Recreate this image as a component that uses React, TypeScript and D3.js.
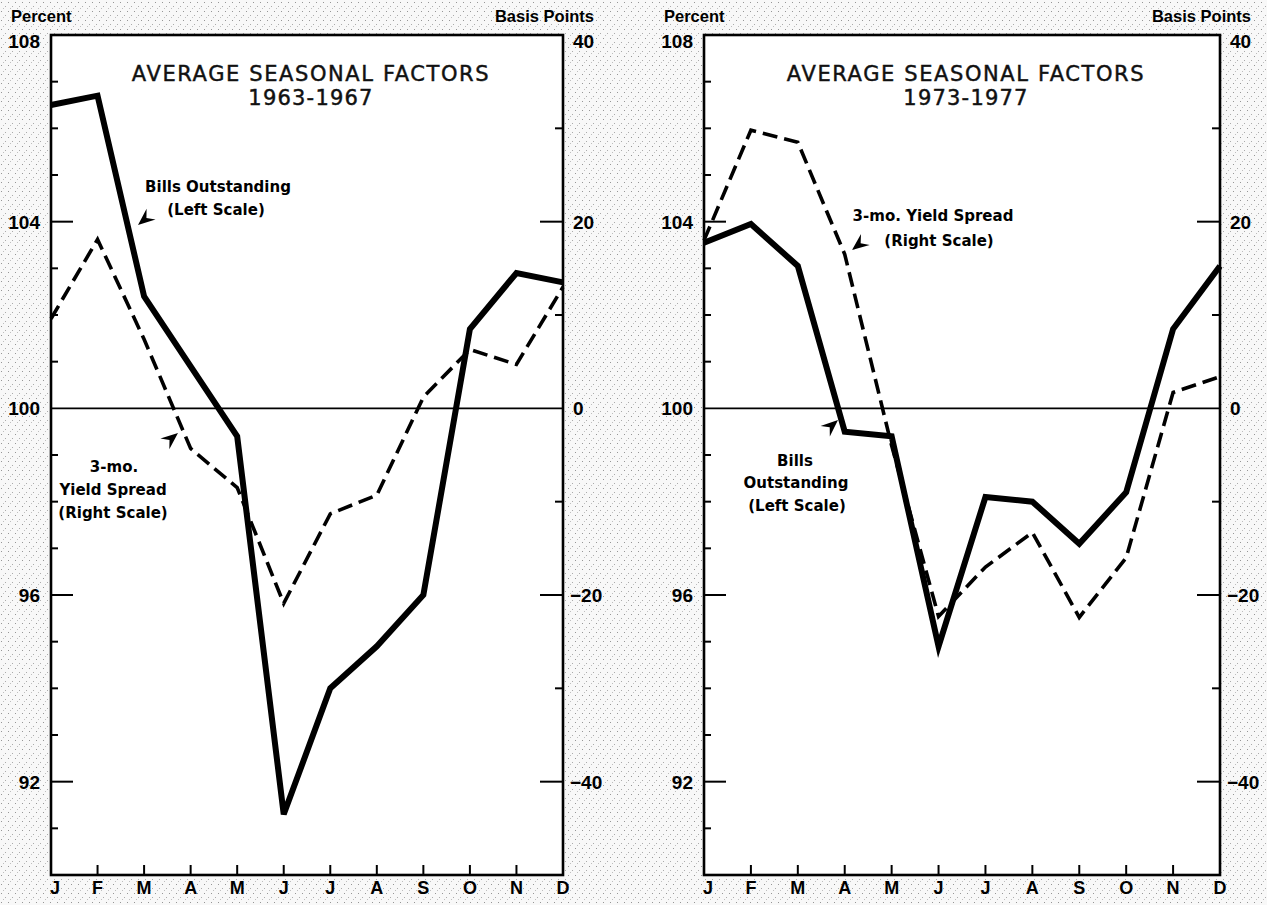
import React from 'react';
import * as d3 from 'd3';

// ---------- data ----------
const months = ['J', 'F', 'M', 'A', 'M', 'J', 'J', 'A', 'S', 'O', 'N', 'D'];
// Bills outstanding, percent (left scale)
const bills6367 = [106.5, 106.7, 102.4, 100.9, 99.4, 91.3, 94.0, 94.9, 96.0, 101.7, 102.9, 102.7];
const bills7377 = [103.55, 103.95, 103.05, 99.5, 99.4, 94.9, 98.1, 98.0, 97.1, 98.2, 101.7, 103.05];
// 3-mo. yield spread, basis points (right scale)
const spread6367 = [9.6, 18.1, 7.4, -4.3, -8.5, -20.9, -11.3, -9.3, 1.2, 6.3, 4.7, 13.0];
const spread7377 = [18.0, 29.8, 28.5, 16.5, -4.0, -22.3, -17.0, -13.3, -22.4, -16.0, 1.7, 3.4];
const percentTicks = [108, 104, 100, 96, 92];
const basisTicks = [40, 20, 0, -20, -40];
const titleText = 'AVERAGE SEASONAL FACTORS';
const periods = ['1963-1967', '1973-1977'];

// ---------- layout ----------
const W = 1267;
const H = 905;
const TOP = 35;
const BOTTOM = 875;
const LABEL_FONT = '"Liberation Sans", Arial, sans-serif';
const NOTE_FONT = '"DejaVu Sans", sans-serif';

type Pt = [number, number];
type Note = { lines: { t: string; x: number; y: number }[]; tip: Pt; from: Pt };

function Arrow({ tip, from }: { tip: Pt; from: Pt }) {
  const ang = (Math.atan2(tip[1] - from[1], tip[0] - from[0]) * 180) / Math.PI;
  return (
    <path
      d="M0,0 L-17,-7 L-11,0 L-17,7 Z"
      fill="#000"
      transform={`translate(${tip[0]},${tip[1]}) rotate(${ang})`}
    />
  );
}

function Panel({
  x0,
  x1,
  period,
  bills,
  spread,
  notes,
}: {
  x0: number;
  x1: number;
  period: string;
  bills: number[];
  spread: number[];
  notes: Note[];
}) {
  const x = d3.scaleLinear().domain([0, months.length - 1]).range([x0, x1]);
  const yL = d3.scaleLinear().domain([90, 108]).range([BOTTOM, TOP]);
  const yR = d3.scaleLinear().domain([-50, 40]).range([BOTTOM, TOP]);
  const lineL = d3
    .line<number>()
    .x((_, i) => x(i))
    .y((d) => yL(d));
  const lineR = d3
    .line<number>()
    .x((_, i) => x(i))
    .y((d) => yR(d));

  const leftMinor = d3.range(91, 108).filter((v) => !percentTicks.includes(v));
  const leftMajor = percentTicks.filter((v) => v !== 108 && v !== 100);
  const rightMinor = d3.range(-40, 40, 10).filter((v) => !basisTicks.includes(v));
  const rightMajor = basisTicks.filter((v) => v !== 40 && v !== 0);
  const cx = (x0 + x1) / 2 + 4;

  return (
    <g>
      <rect x={x0} y={TOP} width={x1 - x0} height={BOTTOM - TOP} fill="#fff" stroke="#000" strokeWidth={2.6} />
      {/* titles */}
      <text
        x={cx}
        y={81}
        textAnchor="middle"
        fontFamily={NOTE_FONT}
        fontSize={21}
        letterSpacing={1.6}
        fill="#111"
        stroke="#111"
        strokeWidth={0.45}
      >
        {titleText}
      </text>
      <text
        x={cx}
        y={105}
        textAnchor="middle"
        fontFamily={NOTE_FONT}
        fontSize={21}
        letterSpacing={1.2}
        fill="#111"
        stroke="#111"
        strokeWidth={0.45}
      >
        {period}
      </text>
      {/* headers */}
      <text x={x0 - 40} y={22} fontFamily={LABEL_FONT} fontWeight="bold" fontSize={16.5}>
        Percent
      </text>
      <text x={x1 + 31} y={22} textAnchor="end" fontFamily={LABEL_FONT} fontWeight="bold" fontSize={16.5}>
        Basis Points
      </text>
      {/* left axis ticks */}
      {leftMinor.map((v) => (
        <line key={'lm' + v} x1={x0} x2={x0 + 7} y1={yL(v)} y2={yL(v)} stroke="#000" strokeWidth={2} />
      ))}
      {leftMajor.map((v) => (
        <line key={'lM' + v} x1={x0} x2={x0 + 22} y1={yL(v)} y2={yL(v)} stroke="#000" strokeWidth={2} />
      ))}
      {/* right axis ticks */}
      {rightMinor.map((v) => (
        <line key={'rm' + v} x1={x1 - 8} x2={x1} y1={yR(v)} y2={yR(v)} stroke="#000" strokeWidth={2} />
      ))}
      {rightMajor.map((v) => (
        <line key={'rM' + v} x1={x1 - 23} x2={x1} y1={yR(v)} y2={yR(v)} stroke="#000" strokeWidth={2} />
      ))}
      {/* zero line */}
      <line x1={x0} x2={x1} y1={yL(100)} y2={yL(100)} stroke="#000" strokeWidth={1.8} />
      {/* x ticks */}
      {months.slice(1, -1).map((_, k) => (
        <line key={'xt' + k} x1={x(k + 1)} x2={x(k + 1)} y1={BOTTOM} y2={BOTTOM - 10} stroke="#000" strokeWidth={2} />
      ))}
      {/* tick labels */}
      {percentTicks.map((v, i) => (
        <text
          key={'pl' + v}
          x={x0 - 11}
          y={yL(v) + (i === 0 ? 13 : 7)}
          textAnchor="end"
          fontFamily={LABEL_FONT}
          fontWeight="bold"
          fontSize={19}
        >
          {v}
        </text>
      ))}
      {basisTicks.map((v, i) => (
        <text
          key={'bl' + v}
          x={x1 + (v < 0 ? 7 : 10)}
          y={yR(v) + (i === 0 ? 13 : 7)}
          fontFamily={LABEL_FONT}
          fontWeight="bold"
          fontSize={19}
        >
          {v < 0 ? '\u2212' + Math.abs(v) : v}
        </text>
      ))}
      {months.map((m, i) => (
        <text
          key={'m' + i}
          x={x(i) + (i === 0 ? 4 : 0)}
          y={894}
          textAnchor="middle"
          fontFamily={LABEL_FONT}
          fontWeight="bold"
          fontSize={18}
        >
          {m}
        </text>
      ))}
      {/* series */}
      <path d={lineR(spread) || ''} fill="none" stroke="#000" strokeWidth={3.6} strokeDasharray="15 7" />
      <path d={lineL(bills) || ''} fill="none" stroke="#000" strokeWidth={6} strokeLinejoin="miter" />
      {/* notes */}
      {notes.map((n, k) => (
        <g key={'n' + k}>
          {n.lines.map((l, j) => (
            <text
              key={j}
              x={l.x}
              y={l.y}
              textAnchor="middle"
              fontFamily={NOTE_FONT}
              fontWeight="bold"
              fontSize={15}
            >
              {l.t}
            </text>
          ))}
          <Arrow tip={n.tip} from={n.from} />
        </g>
      ))}
    </g>
  );
}

const notesLeft: Note[] = [
  {
    lines: [
      { t: 'Bills Outstanding', x: 218, y: 192 },
      { t: '(Left Scale)', x: 216, y: 215 },
    ],
    tip: [138, 225],
    from: [156, 210],
  },
  {
    lines: [
      { t: '3-mo.', x: 114, y: 472 },
      { t: 'Yield Spread', x: 113, y: 495 },
      { t: '(Right Scale)', x: 113, y: 518 },
    ],
    tip: [178, 433],
    from: [161, 447],
  },
];

const notesRight: Note[] = [
  {
    lines: [
      { t: '3-mo. Yield Spread', x: 933, y: 221 },
      { t: '(Right Scale)', x: 939, y: 246 },
    ],
    tip: [852, 250],
    from: [871, 235],
  },
  {
    lines: [
      { t: 'Bills', x: 795, y: 466 },
      { t: 'Outstanding', x: 796, y: 488 },
      { t: '(Left Scale)', x: 797, y: 511 },
    ],
    tip: [838, 420],
    from: [822, 434],
  },
];

export default function App() {
  return (
    <svg width={W} height={H} style={{ position: 'absolute', left: 0, top: 0, background: '#fff' }}>
      <defs>
        <pattern id="speckle" width="7" height="9" patternUnits="userSpaceOnUse">
          <rect x="1" y="2" width="1" height="1" fill="#555" />
          <rect x="5" y="6" width="1" height="1" fill="#777" />
          <rect x="3" y="8" width="1" height="1" fill="#999" />
        </pattern>
      </defs>
      <rect x={0} y={0} width={W} height={H} fill="#f8f8f8" />
      <rect x={0} y={0} width={W} height={H} fill="url(#speckle)" opacity={0.6} />
      <Panel x0={51} x1={563} period={periods[0]} bills={bills6367} spread={spread6367} notes={notesLeft} />
      <Panel x0={704} x1={1220} period={periods[1]} bills={bills7377} spread={spread7377} notes={notesRight} />
    </svg>
  );
}
